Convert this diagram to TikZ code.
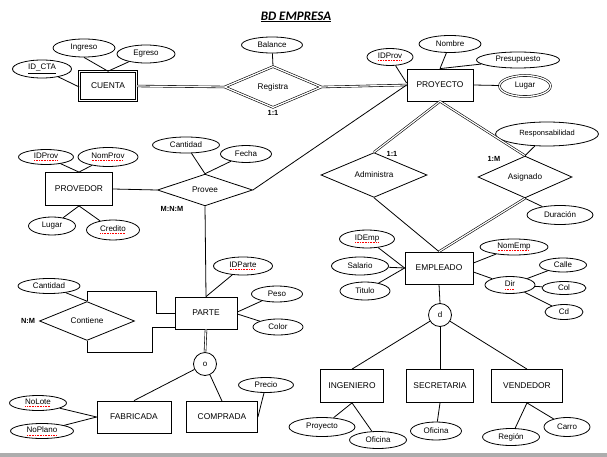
\documentclass[tikz,border=0pt]{standalone}
\usepackage{fontspec}
\setmainfont{Liberation Sans}
\newfontfamily\titlefont{Carlito}
\usetikzlibrary{shapes.geometric}
\newcommand\sq[1]{\leavevmode\setbox0\hbox{#1}\rlap{\copy0}\raisebox{-2.2pt}{\hbox to \wd0{\color{red}\leaders\hbox to 1.6pt{\hss\rule{0.9pt}{0.5pt}\hss}\hfill}}}
\begin{document}
\begin{tikzpicture}[x=1pt,y=-1pt,
  sz/.style 2 args={minimum width=#1pt, minimum height=#2pt},
  ent/.style={draw, rectangle, inner sep=0pt, font=\fontsize{8.4}{9}\selectfont, line width=0.8pt},
  attr/.style={draw, ellipse, inner sep=0pt, font=\fontsize{8}{9}\selectfont, line width=0.8pt},
  rel/.style={draw, diamond, inner sep=0pt, font=\fontsize{8.2}{9}\selectfont, line width=0.8pt},
  isa/.style={draw, circle, inner sep=0pt, font=\fontsize{8}{9}\selectfont, line width=0.8pt},
  card/.style={inner sep=0pt, font=\bfseries\fontsize{7.4}{8}\selectfont},
  conn/.style={line width=0.8pt},
  dconn/.style={double, double distance=1.2pt, line width=0.6pt},
  dbl/.style={double, double distance=1.3pt, line width=0.6pt}
]
\useasboundingbox (0,0) rectangle (607,457);
\fill[white] (0,0) rectangle (607,457);
\fill[black!32] (0,453) rectangle (607,457);

% title
\node[inner sep=0pt, font=\titlefont\bfseries\itshape\fontsize{13}{15}\selectfont] (title) at (296,17) {\underline{BD EMPRESA}};

% CUENTA
\node[ent, dbl, sz={57}{29}] (cuenta) at (108,86) {CUENTA};
\node[attr, sz={62}{18}] (ingreso) at (84,48) {Ingreso};
\node[attr, sz={58}{18}] (egreso) at (146,54) {Egreso};
\node[attr, sz={59}{18}] (idcta) at (42,69) {\underline{ID\_CTA}};

% Registra
\node[rel, dbl, sz={97}{41}] (registra) at (273,87) {Registra};
\node[attr, sz={61}{16}] (balance) at (272,45) {Balance};
\node[card] (c1) at (273,113) {1:1};

% PROYECTO
\node[ent, sz={66}{32}] (proyecto) at (440,85) {PROYECTO};
\node[attr, sz={46}{17}] (idprov1) at (390,57) {\sq{IDProv}};
\node[attr, sz={62}{17}] (nombre) at (450,44) {Nombre};
\node[attr, sz={83}{16}] (presupuesto) at (518,60) {Presupuesto};
\node[attr, dbl, sz={51}{21}] (lugar1) at (525,86) {Lugar};

% Administra / Asignado
\node[rel, sz={106}{34}] (administra) at (374,175) {Administra};
\node[card] (c2) at (392,154) {1:1};
\node[rel, sz={94}{33}] (asignado) at (525,177) {Asignado};
\node[card] (c3) at (494,159) {1:M};
\node[attr, sz={103}{24}, font=\fontsize{7.5}{8}\selectfont] (resp) at (547,134) {Responsabilidad};
\node[attr, sz={66}{19}] (duracion) at (560,215) {Duración};

% EMPLEADO
\node[ent, sz={68}{32}] (empleado) at (439,268) {EMPLEADO};
\node[attr, sz={55}{18}] (idemp) at (367,239) {\sq{IDEmp}};
\node[attr, sz={57}{18}] (salario) at (360,266) {Salario};
\node[attr, sz={50}{18}] (titulo) at (365,291) {Titulo};
\node[attr, sz={68}{16}] (nomemp) at (514,247) {\sq{NomEmp}};
\node[attr, sz={50}{17}] (dir) at (510,285) {\sq{Dir}};
\node[attr, sz={47}{14}] (calle) at (563,265) {Calle};
\node[attr, sz={44}{13}] (col) at (564,288) {Col};
\node[attr, sz={38}{15}] (cd) at (564,312) {Cd};
\node[isa, minimum size=23pt] (d) at (440,315) {d};

% subclasses of EMPLEADO
\node[ent, sz={63}{33}] (ingeniero) at (352,386) {INGENIERO};
\node[ent, sz={67}{33}] (secretaria) at (440,386) {SECRETARIA};
\node[ent, sz={71}{33}] (vendedor) at (527,386) {VENDEDOR};
\node[attr, sz={66}{19}] (proyecto2) at (322,427) {Proyecto};
\node[attr, sz={57}{17}] (oficina1) at (378,440) {Oficina};
\node[attr, sz={51}{18}] (oficina2) at (436,431) {Oficina};
\node[attr, sz={57}{17}] (region) at (511,437) {Región};
\node[attr, sz={46}{19}] (carro) at (567,427) {Carro};

% PROVEDOR
\node[ent, sz={67}{33}] (provedor) at (79,189) {PROVEDOR};
\node[attr, sz={55}{15}] (idprov2) at (46,157) {\sq{IDProv}};
\node[attr, sz={60}{19}] (nomprov) at (108,157) {\sq{NomProv}};
\node[attr, sz={47}{18}] (lugar2) at (52,226) {Lugar};
\node[attr, sz={53}{20}] (credito) at (113,230) {\sq{Credito}};

% Provee
\node[rel, sz={95}{30}] (provee) at (205,190) {Provee};
\node[attr, sz={67}{16}] (cantidad1) at (186,145) {Cantidad};
\node[attr, sz={51}{17}] (fecha) at (246,154) {Fecha};
\node[card] (c4) at (172,209) {M:N:M};

% PARTE
\node[ent, sz={62}{32}] (parte) at (206,313) {PARTE};
\node[attr, sz={59}{18}] (idparte) at (243,266) {\sq{IDParte}};
\node[attr, sz={51}{16}] (peso) at (277,294) {Peso};
\node[attr, sz={50}{16}] (color) at (278,327) {Color};

% Contiene
\node[rel, sz={95}{31}] (contiene) at (87,321) {Contiene};
\node[attr, sz={62}{15}] (cantidad2) at (49,286) {Cantidad};
\node[card] (c5) at (28,321) {N:M};

% PARTE subclasses
\node[isa, minimum size=23pt] (o) at (205,364) {o};
\node[ent, sz={74}{32}] (fabricada) at (134,417) {FABRICADA};
\node[ent, sz={71}{31}] (comprada) at (222,417) {COMPRADA};
\node[attr, sz={55}{15}] (precio) at (266,385) {Precio};
\node[attr, sz={57}{15}] (nolote) at (38,403) {\sq{NoLote}};
\node[attr, sz={63}{15}] (noplano) at (42,431) {\sq{NoPlano}};

% ---- connectors ----
\draw[conn] (ingreso.south) -- (cuenta.north);
\draw[conn] (egreso) -- (cuenta.north);
\draw[conn] (idcta) -- ([yshift=-1pt]cuenta.west);
\draw[dconn] (cuenta.east) -- (registra.west);
\draw[conn] (balance) -- (registra.north);
\draw[dconn] (registra.east) -- (proyecto.west);

\draw[conn] (idprov1) -- ([yshift=2pt]proyecto.west);
\draw[conn] (nombre) -- (proyecto.north);
\draw[conn] (presupuesto) -- (proyecto.north);
\draw[conn] (proyecto.east) -- (lugar1);

\draw[dconn] (proyecto.south) -- (administra.north);
\draw[dconn] (proyecto.south) -- (asignado.north);
\draw[conn] (resp) -- (asignado.north);
\draw[conn] (duracion) -- (asignado.south);
\draw[conn] (administra.south) -- (empleado.north);
\draw[dconn] (asignado.south) -- (empleado.north);

\draw[conn] (idemp) -- (empleado.west);
\draw[conn] (salario) -- (empleado.west);
\draw[conn] (titulo) -- (empleado.west);
\draw[conn] ([yshift=5pt]empleado.east) -- (nomemp);
\draw[conn] ([yshift=-4pt]empleado.east) -- (dir);
\draw[conn] (dir) -- (calle);
\draw[conn] (dir) -- (col);
\draw[conn] (dir) -- (cd);
\draw[conn] (empleado.south) -- (d.north);
\draw[conn] (d) -- (ingeniero.north);
\draw[conn] (d) -- (secretaria.north);
\draw[conn] (d) -- (vendedor.north);
\draw[conn] (ingeniero.south) -- (proyecto2);
\draw[conn] (ingeniero.south) -- (oficina1);
\draw[conn] (secretaria.south) -- (oficina2);
\draw[conn] (vendedor.south) -- (region);
\draw[conn] (vendedor.south) -- (carro);

\draw[conn] (idprov2) -- (provedor.north);
\draw[conn] (nomprov) -- (provedor.north);
\draw[conn] (lugar2) -- (provedor.south);
\draw[conn] (credito) -- (provedor.south);
\draw[conn] (provedor.east) -- (provee.west);
\draw[conn] (cantidad1) -- (provee.north);
\draw[conn] (fecha) -- (provee.north);
\draw[conn] (provee.east) -- (proyecto.west);
\draw[conn] (provee.south) -- (parte.north);

\draw[conn] (idparte) -- (parte.north);
\draw[conn] (peso) -- ([yshift=1pt]parte.east);
\draw[conn] (color) -- ([yshift=-1pt]parte.east);

\draw[conn] (parte.west) -- ++(-18,0) -- ++(0,-22) -| (contiene.north);
\draw[conn] ([yshift=-14pt]parte.west) -- ++(-22,0) -- ++(0,25) -| (contiene.south);
\draw[conn] (cantidad2) -- (contiene.north);

\draw[dconn] (parte.south) -- (o.north);
\draw[conn] (o) -- (fabricada.north);
\draw[conn] (o) -- (comprada.north);
\draw[conn] (precio) -- (comprada.east);
\draw[conn] (nolote) -- (fabricada.west);
\draw[conn] (noplano) -- (fabricada.west);
\end{tikzpicture}
\end{document}
